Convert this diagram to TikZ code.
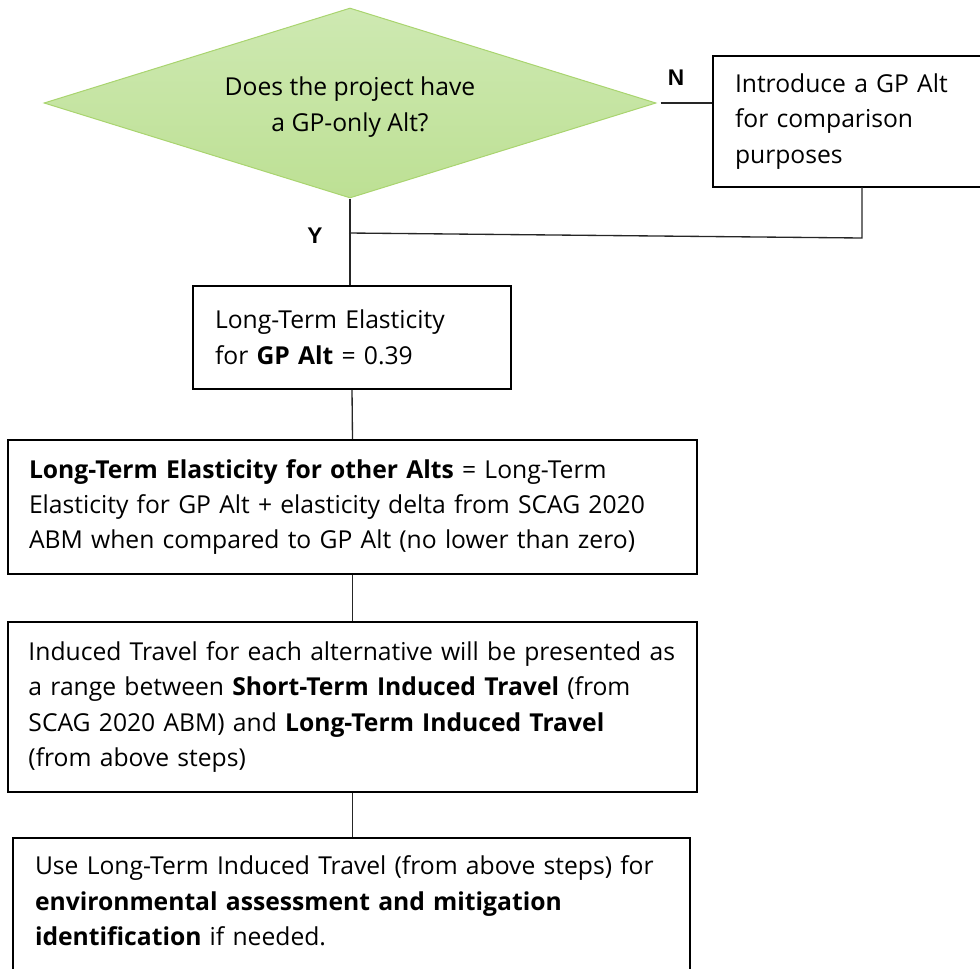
\documentclass[tikz,border=0pt]{standalone}
\usepackage{fontspec}
\setmainfont{Open Sans}
\newfontfamily\labelfont{Liberation Sans}
\usetikzlibrary{shapes.geometric,calc}
\definecolor{dtop}{RGB}{206,233,178}
\definecolor{dbot}{RGB}{189,224,148}
\definecolor{dline}{RGB}{169,212,111}
\tikzset{
  txt/.style={font=\fontsize{18.5pt}{26.6pt}\selectfont},
  stepbox/.style={txt, draw=black, line width=1.5pt, rectangle, align=left, inner ysep=0pt},
  conn/.style={draw=black!85, line width=1pt},
  yn/.style={font=\labelfont\bfseries\fontsize{17pt}{20pt}\selectfont, inner sep=0pt}
}
\begin{document}
\begin{tikzpicture}[x=0.75pt,y=-0.75pt]
\useasboundingbox (0,0) rectangle (980,968);
\node[diamond, shape aspect=3.2, minimum width=459pt, minimum height=142.5pt, inner sep=0pt,
      top color=dtop, bottom color=dbot, draw=dline, line width=0.75pt]
  (dia) at (350,103) {};
\node[txt, align=center, inner sep=0pt] (dtext) at (350,107) {Does the project have\\a GP-only Alt?};
\node[stepbox, minimum width=207.75pt, minimum height=98.25pt, text width=174.75pt, inner xsep=16.5pt]
  (boxN) at (851.5,121.5) {Introduce a GP Alt\\for comparison\\purposes};
\node[stepbox, minimum width=238.5pt, minimum height=77.25pt, text width=205.5pt, inner xsep=16.5pt]
  (box2) at (352,337.5) {Long-Term Elasticity\\for \textbf{GP Alt} = 0.39};
\node[stepbox, minimum width=516.75pt, minimum height=100.5pt, text width=485.25pt, inner xsep=15.75pt]
  (box3) at (352.5,507) {\textbf{Long-Term Elasticity for other Alts} = Long-Term\\Elasticity for GP Alt + elasticity delta from SCAG 2020\\ABM when compared to GP Alt (no lower than zero)};
\node[stepbox, minimum width=516.75pt, minimum height=127.5pt, text width=486pt, inner xsep=15.4pt]
  (box4) at (352.5,707) {Induced Travel for each alternative will be presented as\\a range between \textbf{Short-Term Induced Travel} (from\\SCAG 2020 ABM) and \textbf{Long-Term Induced Travel}\\(from above steps)};
\node[stepbox, minimum width=507.75pt, minimum height=105pt, text width=474.75pt, inner xsep=16.5pt]
  (box5) at (351.5,908) {Use Long-Term Induced Travel (from above steps) for\\\textbf{environmental assessment and mitigation}\\\textbf{identification} if needed.\rule[-11pt]{0pt}{0pt}};
\node[yn] (nlab) at (676,78) {N};
\node[yn] (ylab) at (315,236) {Y};
\coordinate (nb) at (862,187);
\coordinate (c1) at (862,238);
\coordinate (c2) at (349,233);
\draw[conn] ([xshift=3pt]dia.east) -- (boxN.west |- dia.east);
\draw[conn] (nb) -- (c1) -- (c2);
\draw[conn] (dia.south) -- (dia.south |- box2.north);
\draw[conn] (box2.south) -- (box3.north);
\draw[conn] (box3.south) -- (box4.north);
\draw[conn] (box4.south) -- (box5.north -| box4.south);
\end{tikzpicture}
\end{document}
